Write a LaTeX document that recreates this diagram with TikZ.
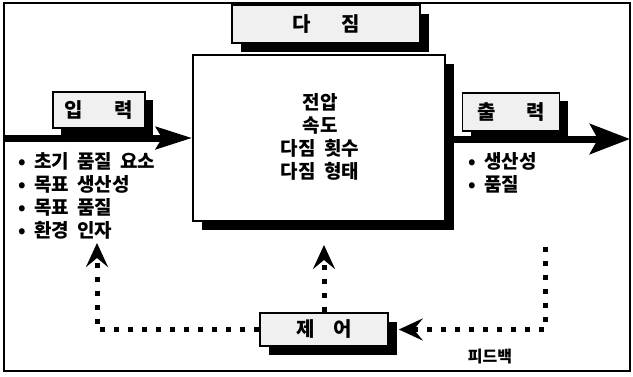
\documentclass[tikz,border=0pt]{standalone}
\usepackage{fontspec}
\setmainfont{Noto Sans CJK KR}[WordSpace=1.9]
\usetikzlibrary{arrows.meta,shadows}
\tikzset{
  boxshadow/.style={general shadow={fill=black, shadow xshift=#1, shadow yshift=-#1}},
  labelbox/.style={draw=black, line width=1.6pt, fill=gray!12, inner sep=0pt,
     font=\fontsize{20}{22}\selectfont\bfseries},
  mainbox/.style={draw=black, line width=1.8pt, fill=white, inner sep=0pt},
  txt/.style={font=\fontsize{19}{23}\selectfont\bfseries, inner sep=0pt},
  fb/.style={line width=5pt, dash pattern=on 5pt off 9pt},
  fbtip/.style={-{Stealth[length=24pt,width=22pt,inset=9pt]}},
  bigarrow/.style={line width=7pt}
}
\begin{document}
\begin{tikzpicture}[x=1pt,y=-1pt]
\useasboundingbox (0,0) rectangle (633,376);
% outer frame
\draw[line width=1.3pt] (4,3) rectangle (630,371);

% boxes
\node[mainbox, boxshadow=9pt, minimum width=252, minimum height=166] (main) at (319,138) {};
\node[labelbox, boxshadow=9pt, minimum width=188, minimum height=38] (dajim) at (326,24) {다\hspace{30pt}짐};
\node[labelbox, boxshadow=8pt, minimum width=92, minimum height=36] (input) at (99,110) {입\hspace{32pt}력};
\node[labelbox, boxshadow=8pt, minimum width=97, minimum height=38] (output) at (511,112) {출\hspace{31pt}력};
\node[labelbox, boxshadow=9pt, minimum width=128, minimum height=33] (ctrl) at (324,329.5) {제\hspace{19pt}어};

% main text
\node[txt, align=center] (params) at (320,137) {전압\\속도\\다짐 횟수\\다짐 형태};

% input / output arrows
\coordinate (inS) at (5,138);
\coordinate (outE) at (630,139);
\draw[bigarrow, -{Stealth[length=36pt,width=22pt,inset=6pt]}] (inS) -- (main.west);
\draw[bigarrow, -{Stealth[length=40pt,width=30pt,inset=8pt]}] (main.east |- outE) -- (outE);

% bullet lists
\node[txt, align=left, anchor=north west] (inlist) at (18,152)
  {• 초기 품질 요소\\• 목표 생산성\\• 목표 품질\\• 환경 인자};
\node[txt, align=left, anchor=north west] (outlist) at (468,152)
  {• 생산성\\• 품질};

% feedback loops
\coordinate (ltip) at (97,243);
\coordinate (mtip) at (324,245);
\coordinate (rtop) at (545,247);
\draw[fb, fbtip] (ctrl.west) -| (ltip);
\draw[fb, fbtip] (ctrl.north) -- (mtip);
\draw[fb, fbtip] (rtop) |- ([xshift=10pt]ctrl.east);

\node[font=\fontsize{16}{18}\selectfont\bfseries, inner sep=0pt] (fbl) at (490,357) {피드백};
\end{tikzpicture}
\end{document}
